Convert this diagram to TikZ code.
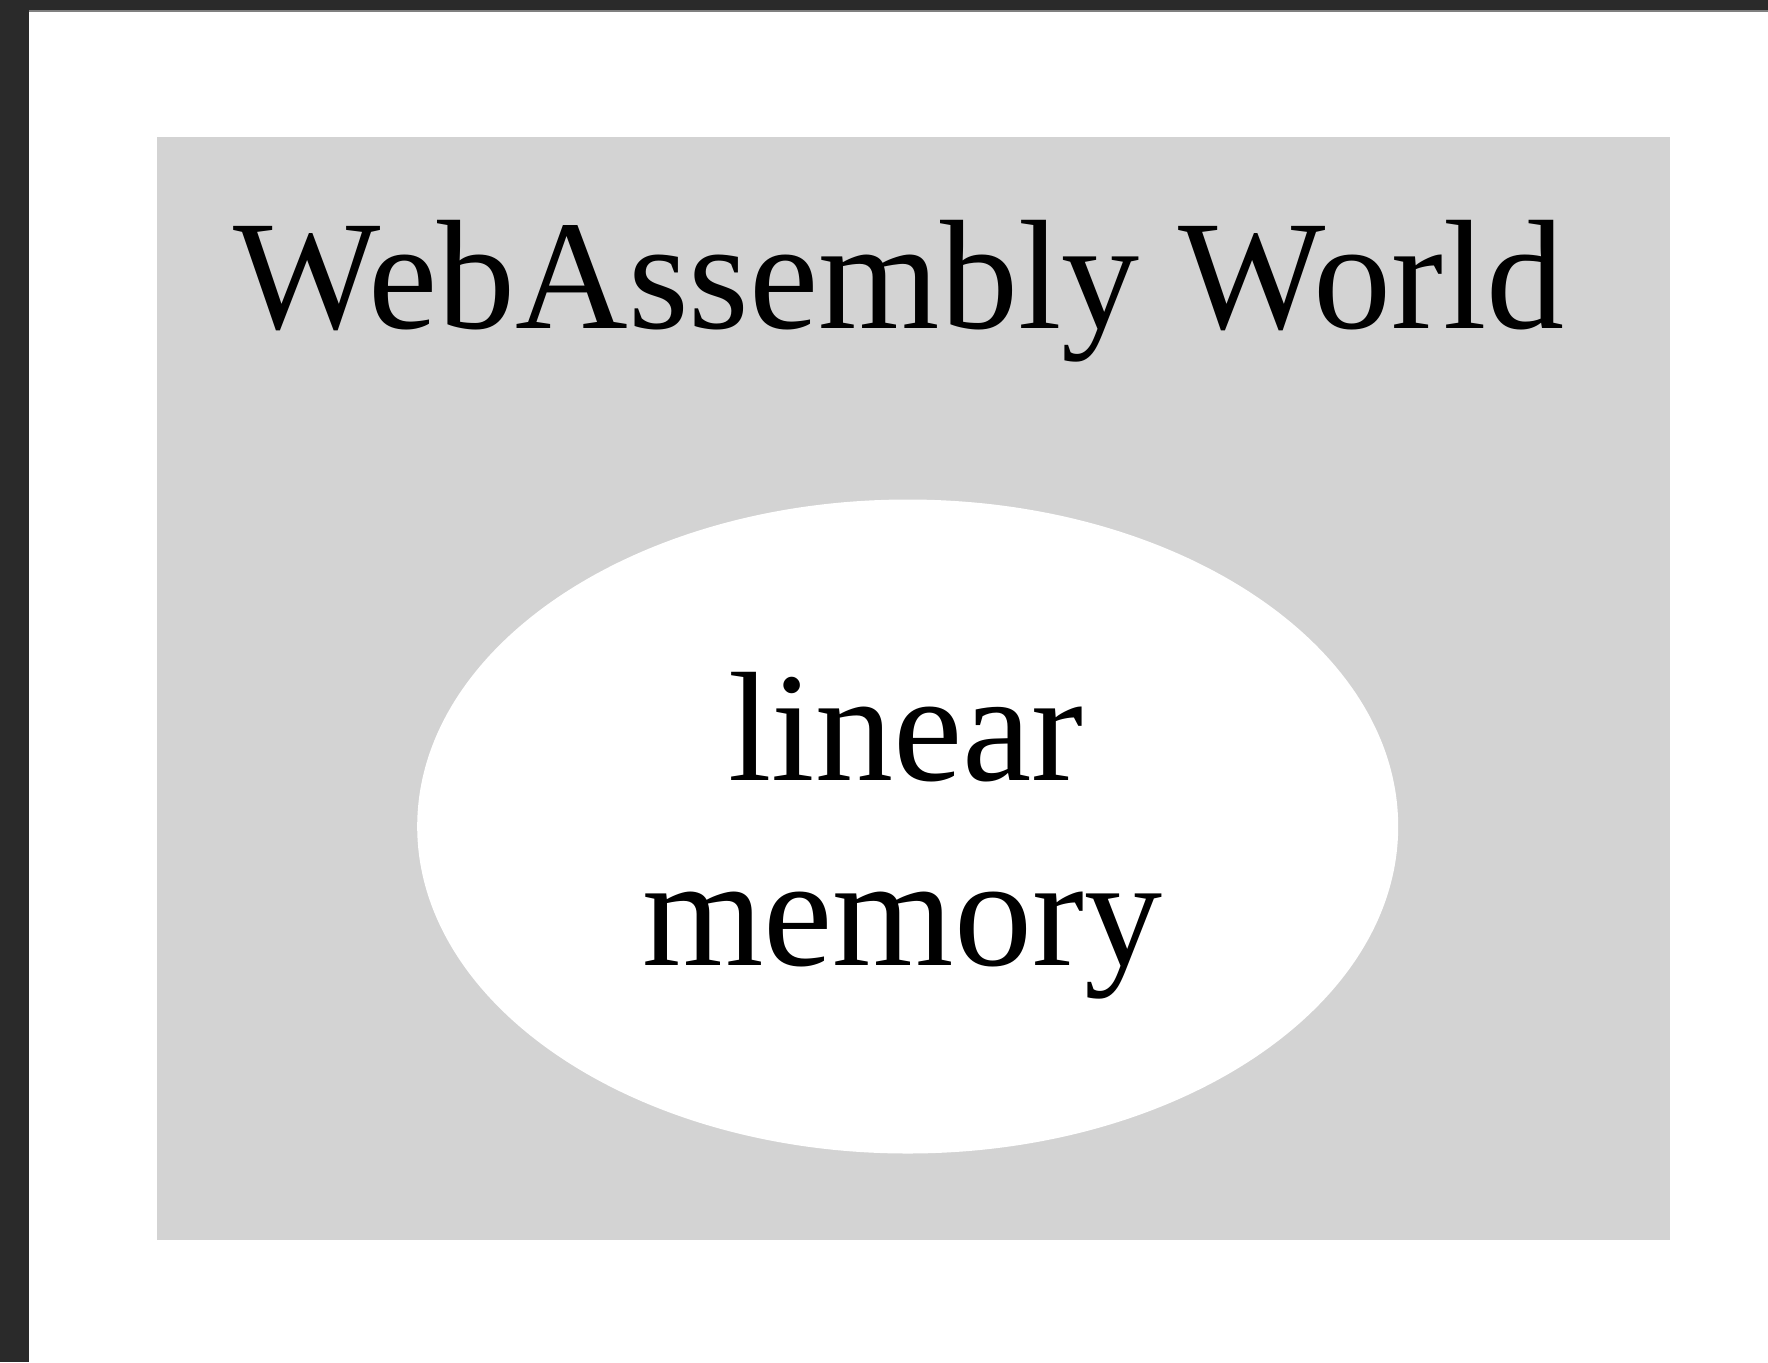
\documentclass[tikz,border=0pt]{standalone}
\usepackage{fontspec}
\setmainfont{Liberation Serif}
\usetikzlibrary{shapes.geometric}
\definecolor{framedark}{HTML}{2A2A2A}
\definecolor{clustergray}{HTML}{D3D3D3}
\begin{document}
\begin{tikzpicture}[x=0.5pt,y=-0.5pt,
  bigtext/.style={font=\fontsize{78}{92.5}\selectfont, inner sep=0},
  clusterbox/.style={rectangle, fill=clustergray, draw=none, inner sep=0},
  memnode/.style={ellipse, fill=white, draw=none, inner sep=0}]
\useasboundingbox (0,0) rectangle (1768,1362);
\fill[white] (0,0) rectangle (1768,1362);
\fill[framedark] (0,0) rectangle (29,1362);
\fill[framedark] (0,0) rectangle (1768,10);
\fill[gray] (29,10) rectangle (1768,11.5);
\node (cluster) [clusterbox, minimum width=756.65pt, minimum height=551.65pt] at (913.35,688.35) {};
\node (title) [bigtext, anchor=base] at (899,328) {WebAssembly World};
\node (mem) [memnode, minimum width=490.5pt, minimum height=327pt] at (907.7,826.5) {};
\node (l1) [bigtext, anchor=base] at (906,780) {linear};
\node (l2) [bigtext, anchor=base] at (902,965) {memory};
\end{tikzpicture}
\end{document}
